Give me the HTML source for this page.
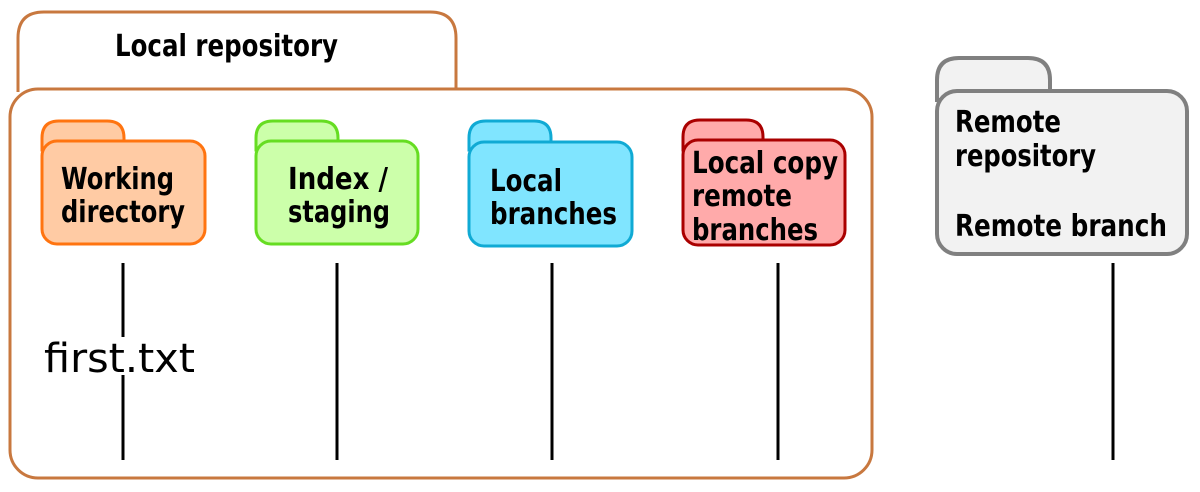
<!DOCTYPE html>
<html><head><meta charset="utf-8"><style>html,body{margin:0;padding:0;background:#fff}svg{display:block}</style></head>
<body>
<svg width="1200" height="492" viewBox="0 0 1200 492" xmlns="http://www.w3.org/2000/svg">
<g fill="none" stroke="#c8783f" stroke-width="3">
<path d="M18,92 V38 Q18,12 44,12 H430 Q456,12 456,38 V90"/>
<rect x="10" y="89" width="862" height="389" rx="28" fill="#fff"/>
</g>
<g stroke-width="3">
<path d="M42,150 V138 Q42,121 59,121 H107 Q124,121 124,138 V150 Z" fill="#ffcba4" stroke="#ff7410"/>
<rect x="42" y="141" width="163" height="103" rx="15" fill="#ffcba4" stroke="#ff7410"/>
<path d="M256,150 V138 Q256,121 273,121 H321 Q338,121 338,138 V150 Z" fill="#ccffaa" stroke="#66dd22"/>
<rect x="256" y="141" width="162" height="103" rx="15" fill="#ccffaa" stroke="#66dd22"/>
<path d="M469,150 V138 Q469,121 486,121 H534 Q551,121 551,138 V150 Z" fill="#80e5ff" stroke="#10aad4"/>
<rect x="469" y="142" width="163" height="104" rx="15" fill="#80e5ff" stroke="#10aad4"/>
<path d="M683,150 V137 Q683,120 700,120 H746 Q763,120 763,137 V150 Z" fill="#ffaaaa" stroke="#aa0000"/>
<rect x="683" y="140" width="162" height="105" rx="15" fill="#ffaaaa" stroke="#aa0000"/>
</g>
<g stroke-width="4" stroke="#808080" fill="#f2f2f2">
<path d="M937,100 V80 Q937,58 959,58 H1028 Q1050,58 1050,80 V100 Z"/>
<rect x="937" y="91" width="250" height="163" rx="20"/>
</g>
<g stroke="#000" stroke-width="3">
<line x1="123" y1="263" x2="123" y2="460"/>
<line x1="337" y1="263" x2="337" y2="460"/>
<line x1="552" y1="263" x2="552" y2="460"/>
<line x1="778" y1="263" x2="778" y2="460"/>
<line x1="1113" y1="263" x2="1113" y2="460"/>
</g>
<rect x="115" y="337" width="16" height="38" fill="#fff"/>
<text x="44" y="372" font-family="DejaVu Sans, sans-serif" font-size="40" textLength="151" lengthAdjust="spacingAndGlyphs">first.txt</text>
<g font-family="DejaVu Sans, sans-serif" font-weight="bold" font-size="30" fill="#000">
<text x="115" y="56" textLength="223" lengthAdjust="spacingAndGlyphs">Local repository</text>
<text x="61" y="189" textLength="113" lengthAdjust="spacingAndGlyphs">Working</text>
<text x="61" y="222" textLength="124" lengthAdjust="spacingAndGlyphs">directory</text>
<text x="288" y="189" textLength="100" lengthAdjust="spacingAndGlyphs">Index /</text>
<text x="288" y="222" textLength="102" lengthAdjust="spacingAndGlyphs">staging</text>
<text x="490" y="191" textLength="72" lengthAdjust="spacingAndGlyphs">Local</text>
<text x="490" y="224" textLength="127" lengthAdjust="spacingAndGlyphs">branches</text>
<text x="692" y="173" textLength="146" lengthAdjust="spacingAndGlyphs">Local copy</text>
<text x="692" y="206" textLength="100" lengthAdjust="spacingAndGlyphs">remote</text>
<text x="692" y="240" textLength="126" lengthAdjust="spacingAndGlyphs">branches</text>
<text x="955" y="132" textLength="106" lengthAdjust="spacingAndGlyphs">Remote</text>
<text x="955" y="166" textLength="141" lengthAdjust="spacingAndGlyphs">repository</text>
<text x="955" y="236" textLength="212" lengthAdjust="spacingAndGlyphs">Remote branch</text>
</g>
</svg>
</body></html>
